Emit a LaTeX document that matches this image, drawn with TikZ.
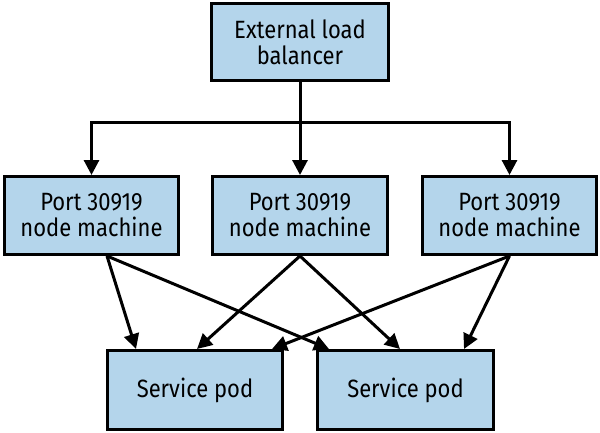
\documentclass[tikz,border=0pt]{standalone}
\usepackage{fontspec}
\setmainfont{Fira Sans}[FakeStretch=0.88]
\usetikzlibrary{arrows.meta}
\usetikzlibrary{calc}
\definecolor{boxblue}{HTML}{B4D5EB}

\begin{document}
\begin{tikzpicture}[x=1pt,y=-1pt,->,>={Triangle[length=15pt,width=15pt]},line width=3pt]
	\tikzset{vertex/.style = {shape=rectangle, draw, fill=boxblue, align=center,
		minimum width=174.5pt, minimum height=78pt, inner sep=0pt,
		font=\fontsize{25}{26}\selectfont}}
	\useasboundingbox (0,0) rectangle (600,432);
	\node[vertex, minimum width=177pt, minimum height=77pt] (LB) at (300,42) {External load\\balancer};
	\node[vertex] (N1) at (91.5,215.5) {Port 30919\\node machine};
	\node[vertex] (N2) at (300,215.5) {Port 30919\\node machine};
	\node[vertex] (N3) at (509.5,215.5) {Port 30919\\node machine};
	\node[vertex, minimum width=175.5pt, minimum height=79pt] (P1) at (195,390) {Service pod};
	\node[vertex, minimum width=175.5pt, minimum height=79pt] (P2) at (405.5,390) {Service pod};
	
	\coordinate (split) at (300,122);
	\draw (LB.south) -- (N2.north);
	\draw (split) -| (N1.north);
	\draw (split) -| (N3.north);
	
	\draw ([xshift=15.5pt]N1.south) -- ([xshift=-59pt]P1.north);
	\draw ([xshift=15.5pt]N1.south) -- ([xshift=-76.5pt]P2.north);
	\draw (N2.south) -- ([xshift=2pt]P1.north);
	\draw (N2.south) -- ([xshift=-5.5pt]P2.north);
	\draw (N3.south) -- ([xshift=77pt]P1.north);
	\draw (N3.south) -- ([xshift=58.5pt]P2.north);
\end{tikzpicture}
\end{document}
